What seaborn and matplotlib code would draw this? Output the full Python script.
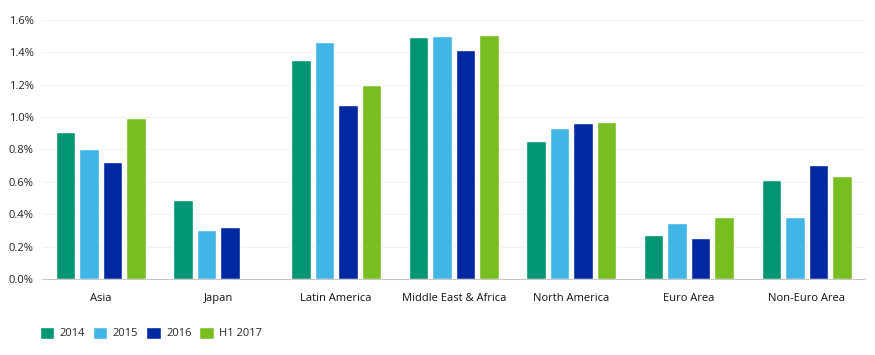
import numpy as np
import pandas as pd
import matplotlib.pyplot as plt
from matplotlib.ticker import PercentFormatter, FixedLocator
import seaborn as sns

regions = ["Asia", "Japan", "Latin America", "Middle East & Africa",
           "North America", "Euro Area", "Non-Euro Area"]
periods = ["2014", "2015", "2016", "H1 2017"]
v2014 = [0.91, 0.49, 1.355, 1.495, 0.855, 0.27, 0.61]
v2015 = [0.805, 0.30, 1.465, 1.50, 0.93, 0.345, 0.38]
v2016 = [0.72, 0.32, 1.075, 1.415, 0.965, 0.255, 0.705]
vh117 = [0.995, np.nan, 1.20, 1.505, 0.97, 0.38, 0.635]
colors = ["#009673", "#41b6e6", "#0028a0", "#78be21"]

rows = []
for period, vals in zip(periods, [v2014, v2015, v2016, vh117]):
    for r, v in zip(regions, vals):
        rows.append({"region": r, "period": period, "value": v})
df = pd.DataFrame(rows)

sns.set_style("white")
plt.rcParams['font.family'] = ['Open Sans', 'DejaVu Sans']

fig, ax = plt.subplots(figsize=(8.75, 3.55), dpi=100)
fig.subplots_adjust(left=0.048, right=0.989, bottom=0.214, top=0.944)

sns.barplot(data=df, x="region", y="value", hue="period", order=regions,
            hue_order=periods, palette=colors, width=0.8, gap=0.17,
            saturation=1, errorbar=None, ax=ax)

ax.set_ylim(0, 1.6)
ax.set_xlim(-0.5, len(regions) - 0.5)
ax.set_yticks(np.arange(0, 1.61, 0.2))
ax.yaxis.set_major_formatter(PercentFormatter(decimals=1))
ax.grid(axis="y", color="#f0f0f0", linewidth=0.8)
ax.set_axisbelow(True)
for s in ["top", "right", "left"]:
    ax.spines[s].set_visible(False)
ax.spines["bottom"].set_color("#c8c8c8")
ax.set_xlabel("")
ax.set_ylabel("")
ax.tick_params(axis="y", length=0, labelsize=8, labelcolor="#222222", pad=6)
ax.tick_params(axis="x", which="major", length=0, labelsize=8,
               labelcolor="#111111", pad=10)
ax.xaxis.set_minor_locator(FixedLocator(np.arange(-0.5, len(regions), 1)))
ax.tick_params(axis="x", which="minor", length=6, color="#c8c8c8")

ax.legend(loc="upper left", bbox_to_anchor=(-0.015, -0.145), ncol=4,
          frameon=False, fontsize=8, handlelength=1.3, handleheight=1.3,
          handletextpad=0.5, columnspacing=0.7)

fig.savefig("out.png", dpi=100)
